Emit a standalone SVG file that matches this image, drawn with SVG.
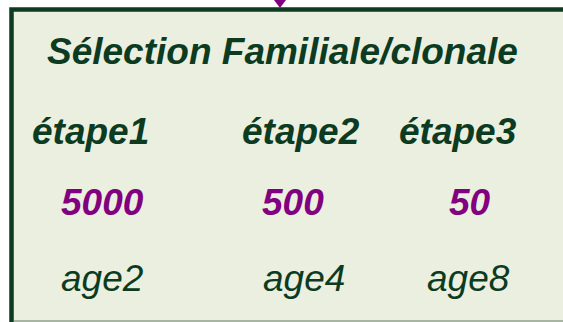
<svg xmlns="http://www.w3.org/2000/svg" width="563" height="322" viewBox="0 0 563 322">
  <style>
    .t { font-family: "Liberation Sans", Arial, sans-serif; font-style: italic; font-size: 37px; }
    .b { font-weight: bold; fill: #0c3b22; }
    .n { font-weight: bold; fill: #800080; }
    .r { font-weight: normal; fill: #0c3b22; }
  </style>
  <rect x="0" y="0" width="563" height="322" fill="#ffffff"/>
  <g id="selection-box">
    <rect x="11.5" y="9.5" width="570" height="330" fill="#ebefdf" stroke="#0c3b22" stroke-width="4.5"/>
    <line x1="14" y1="321" x2="563" y2="321" stroke="#a9b5a3" stroke-width="2"/>
    <text class="t b" x="47" y="64" font-size="38.5">Sélection Familiale/clonale</text>
    <text class="t b" x="32" y="144">étape1</text>
    <text class="t b" x="242" y="144">étape2</text>
    <text class="t b" x="399" y="144">étape3</text>
    <text class="t n" x="61" y="215">5000</text>
    <text class="t n" x="262" y="215">500</text>
    <text class="t n" x="449" y="215">50</text>
    <text class="t r" x="61" y="291">age2</text>
    <text class="t r" x="263" y="291">age4</text>
    <text class="t r" x="427" y="291">age8</text>
  </g>
  <g id="connectors">
    <polygon points="274,0 286,0 280,8" fill="#800080"/>
  </g>
</svg>
